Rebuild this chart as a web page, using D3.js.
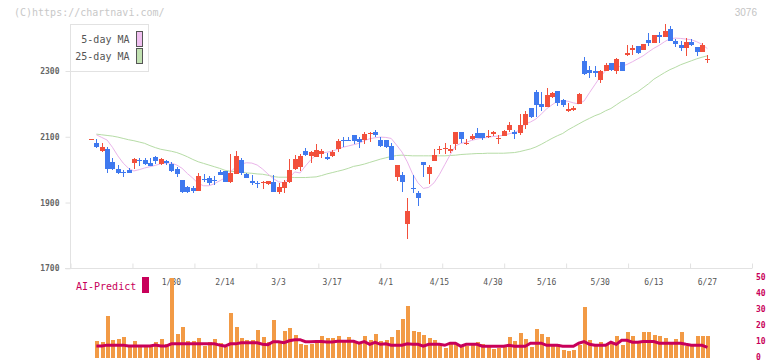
<!DOCTYPE html>
<html>
<head>
<meta charset="utf-8">
<script src="https://cdn.jsdelivr.net/npm/d3@7"></script>
<style>
  body { margin: 0; background: #fff; }
  text { font-family: "DejaVu Sans Mono", monospace; }
</style>
</head>
<body>
<svg id="chart" width="772" height="361"></svg>
<script>
// daily prices, one entry per trading day (first = 1/8, last = 6/27)
var openP = [
  2093, 2081, 2058, 2063, 2024, 2001, 1992, 1999, 2021, 2030,
  2030, 2021, 2038, 2017, 2027, 2018, 2002, 1969, 1947, 1945,
  1936, 1972, 1976, 1970, 1992, 1997, 1963, 1987, 2030, 1987,
  1964, 1960, 1960, 1956, 1961, 1933, 1943, 1963, 2003, 2009,
  2057, 2040, 2039, 2048, 2037, 2042, 2064, 2091, 2091, 2106,
  2094, 2090, 2108, 2115, 2090, 2090, 2072, 1979, 1984, 1836,
  1945, 1930, 2024, 1987, 2025, 2060, 2062, 2056, 2079, 2115,
  2077, 2094, 2112, 2111, 2100, 2107, 2093, 2101, 2122, 2115,
  2112, 2136, 2188, 2237, 2200, 2192, 2222, 2240, 2212, 2179,
  2180, 2199, 2331, 2304, 2301, 2273, 2299, 2323, 2299, 2326,
  2348, 2364, 2375, 2365, 2395, 2385, 2410, 2402, 2428, 2392,
  2380, 2370, 2388, 2373, 2358, 2334
];
var closeP = [
  2093, 2070, 2069, 2003, 2002, 1991, 1989, 1991, 2033, 2027,
  2018, 2012, 2025, 2033, 2020, 1995, 1987, 1932, 1931, 1936,
  1981, 1968, 1958, 1967, 1985, 1961, 1989, 2043, 1991, 1975,
  1958, 1955, 1962, 1964, 1933, 1948, 1961, 1999, 2033, 2042,
  2046, 2053, 2059, 2057, 2031, 2054, 2088, 2087, 2087, 2086,
  2083, 2109, 2112, 2104, 2073, 2070, 2028, 2014, 1961, 1874,
  1941, 1915, 2014, 2008, 2045, 2064, 2067, 2062, 2115, 2092,
  2081, 2103, 2097, 2095, 2103, 2113, 2096, 2117, 2137, 2107,
  2136, 2170, 2160, 2197, 2192, 2228, 2233, 2202, 2197, 2184,
  2189, 2231, 2290, 2294, 2293, 2301, 2319, 2302, 2336, 2299,
  2354, 2369, 2354, 2382, 2385, 2409, 2402, 2422, 2390, 2382,
  2370, 2388, 2378, 2358, 2380, 2336
];
var highP = [
  2093, 2093, 2080, 2068, 2035, 2014, 1999, 2005, 2035, 2036,
  2036, 2034, 2042, 2036, 2030, 2024, 2009, 1969, 1949, 1950,
  1990, 1986, 1980, 1980, 2000, 1997, 2049, 2057, 2036, 1990,
  1984, 1964, 1967, 1967, 1983, 1960, 1968, 2032, 2044, 2047,
  2067, 2057, 2077, 2062, 2050, 2060, 2092, 2098, 2098, 2106,
  2099, 2116, 2114, 2121, 2098, 2090, 2081, 2014, 1993, 1914,
  1984, 1935, 2024, 2014, 2062, 2072, 2080, 2076, 2115, 2115,
  2093, 2109, 2127, 2111, 2121, 2117, 2104, 2121, 2146, 2121,
  2168, 2177, 2188, 2243, 2235, 2248, 2237, 2240, 2214, 2202,
  2193, 2232, 2344, 2316, 2316, 2304, 2323, 2323, 2339, 2326,
  2380, 2380, 2375, 2382, 2415, 2409, 2420, 2444, 2438, 2398,
  2390, 2400, 2398, 2373, 2385, 2349
];
var lowP = [
  2093, 2066, 2054, 1991, 1999, 1987, 1977, 1989, 2003, 2012,
  2014, 2012, 2017, 2015, 2015, 1993, 1977, 1930, 1929, 1928,
  1936, 1962, 1954, 1954, 1983, 1961, 1959, 1986, 1985, 1975,
  1953, 1945, 1941, 1953, 1933, 1925, 1930, 1959, 1999, 1996,
  2043, 2021, 2039, 2035, 2030, 2037, 2055, 2069, 2087, 2078,
  2065, 2078, 2085, 2100, 2069, 2065, 2028, 1964, 1933, 1790,
  1930, 1890, 1979, 1957, 2025, 2048, 2049, 2052, 2060, 2082,
  2074, 2089, 2095, 2089, 2095, 2101, 2078, 2101, 2113, 2092,
  2106, 2124, 2156, 2160, 2177, 2192, 2219, 2193, 2192, 2174,
  2179, 2199, 2288, 2280, 2283, 2265, 2299, 2299, 2291, 2299,
  2346, 2349, 2352, 2365, 2377, 2385, 2385, 2402, 2390, 2373,
  2361, 2347, 2377, 2347, 2358, 2324
];

// moving averages as drawn (first day has none)
var ma5 = [
  null, 2106, 2098, 2090, 2068, 2042, 2020, 2004, 1996, 2000,
  2005, 2009, 2013, 2018, 2020, 2020, 2014, 2004, 1988, 1974,
  1958, 1951, 1951, 1957, 1966, 1975, 1993, 2008, 2017, 2021,
  2020, 2014, 2002, 1987, 1973, 1963, 1960, 1975, 1993, 1990,
  2011, 2030, 2045, 2051, 2053, 2056, 2062, 2068, 2072, 2076,
  2080, 2088, 2094, 2097, 2099, 2098, 2095, 2075, 2054, 2024,
  1987, 1960, 1943, 1946, 1960, 1985, 2015, 2045, 2072, 2080,
  2083, 2089, 2093, 2096, 2098, 2101, 2102, 2105, 2109, 2113,
  2121, 2139, 2145, 2154, 2169, 2185, 2197, 2208, 2209, 2208,
  2203, 2200, 2209, 2234, 2258, 2282, 2301, 2310, 2313, 2314,
  2320, 2328, 2337, 2346, 2358, 2369, 2378, 2389, 2398, 2400,
  2399, 2397, 2395, 2389, 2381, 2368
];
var ma25 = [
  null, 2108, 2106, 2104, 2102, 2099, 2095, 2091, 2088, 2084,
  2080, 2073, 2067, 2062, 2059, 2056, 2052, 2046, 2039, 2031,
  2024, 2019, 2014, 2009, 2004, 1998, 1995, 1994, 1992, 1990,
  1989, 1987, 1986, 1983, 1979, 1977, 1977, 1977, 1976, 1976,
  1976, 1977, 1978, 1982, 1987, 1991, 1995, 1999, 2004, 2010,
  2013, 2017, 2022, 2027, 2032, 2036, 2040, 2043, 2044, 2043,
  2042, 2042, 2042, 2042, 2042, 2042, 2042, 2043, 2044, 2046,
  2047, 2048, 2049, 2049, 2050, 2050, 2050, 2050, 2051, 2052,
  2055, 2059, 2063, 2069, 2077, 2086, 2095, 2103, 2110, 2121,
  2130, 2139, 2148, 2156, 2164, 2170, 2179, 2186, 2197, 2208,
  2217, 2228, 2237, 2249, 2261, 2275, 2285, 2295, 2304, 2311,
  2319, 2325, 2331, 2337, 2342, 2346
];

// lower panel: bars and AI-Predict line
var volume = [
  null, 11, 10.3, 26.5, 11.6, 12.2, 13.4, 7.8, 11, 7.8,
  7.8, 7.8, 10.3, 12.2, 9, 49.7, 15.3, 19.7, 11, 11,
  12.8, 7.8, 10.3, 12.2, 9.7, 7.2, 28.4, 19.7, 12.8, 11.6,
  11.6, 17.8, 13.4, 10.3, 24, 10.3, 17.2, 19, 14.7, 9,
  8.4, 9, 10.3, 14, 12.7, 12.7, 14, 10.2, 13.3, 10.8,
  8.9, 14, 11.4, 15.2, 10.8, 11.4, 13, 17.7, 24.6, 32.7,
  17, 16.4, 14.6, 12.7, 11.4, 8.3, 6.4, 10.2, 9.5, 8.3,
  7.7, 8.3, 10.2, 8.9, 7.7, 5.8, 6.4, 8.3, 13.3, 10.8,
  15.8, 12, 7, 18.3, 15.2, 13.3, 7.7, 8.9, 5.2, 4.6,
  5.2, 8.3, 32, 11.4, 8.3, 10.2, 8.9, 10.2, 14, 8.3,
  16.4, 14, 10.8, 16.4, 16.4, 14.6, 14, 12.7, 9.5, 12,
  16.4, 7.7, 7.7, 14, 14, 14
];
var aiPredict = [
  null, 7.6, 7.6, 8.2, 8.2, 8.2, 8.2, 7.6, 7.6, 7.6,
  7.6, 7.6, 8.2, 7.6, 7.6, 9, 9, 9, 9, 9,
  9, 9, 9, 9, 8.2, 7.6, 9, 9, 9.7, 9.7,
  9.7, 9.7, 8.8, 8.5, 10.3, 10.3, 9.7, 10.9, 11.6, 11.6,
  10.3, 10.3, 10.4, 10.4, 10.2, 10.2, 10.6, 10.6, 10.6, 10.6,
  9.4, 10.4, 8.7, 10, 8.7, 9, 8.1, 8.1, 8.1, 9,
  8.7, 8.7, 7.5, 8.7, 8.7, 8.7, 8.1, 9.4, 9.4, 7.5,
  8.7, 8.7, 8.7, 7.5, 7.5, 7.5, 7.5, 7.5, 8.1, 7.5,
  7.5, 7.5, 9.4, 9.4, 9.4, 8.1, 8.1, 8.1, 7.5, 7.5,
  7.5, 9.4, 10.4, 8.7, 8.1, 8.1, 8.1, 10, 8.7, 11.2,
  11.2, 10, 10, 10.4, 10.4, 10.4, 9.4, 9.4, 9.4, 9.4,
  9.4, 8.7, 8.1, 8.1, 8.1, 6.8
];

// axis labels
var dayLabels = ["1/30", "2/14", "3/3", "3/17", "4/1", "4/15", "4/30", "5/16", "5/30", "6/13", "6/27"];
var dayLabelIdx = [15, 25, 35, 45, 55, 65, 75, 85, 95, 105, 115];
var priceTicks = [1700, 1900, 2100, 2300];
var volTicks = [0, 10, 20, 30, 40, 50];

var UP = "#f2503c", DOWN = "#3f79ef";
var GRID = "#e2e2e2";
var AI_COL = "#c8005a";

var svg = d3.select("#chart");
var days = d3.range(openP.length);

var x = d3.scaleLinear().domain([0, openP.length - 1]).range([91, 707.4]);
var y = d3.scaleLinear().domain([1700, 2300]).range([268.3, 71]);
var yv = d3.scaleLinear().domain([0, 50]).range([358.3, 278]);
// evenly spaced marks along the bottom line
var gx = d3.scaleLinear().domain([0, 11]).range([70.5, 752]);

svg.append("rect").attr("width", 772).attr("height", 361).attr("fill", "#fff");

// header
svg.append("text")
  .attr("x", 14).attr("y", 16)
  .text("(C)https://chartnavi.com/")
  .style("font-size", "10px")
  .attr("fill", "#c8c8c8");
svg.append("text")
  .attr("x", 757).attr("y", 16)
  .attr("text-anchor", "end")
  .text("3076")
  .style("font-family", "'Liberation Sans', Arial, sans-serif")
  .style("font-size", "10px")
  .attr("fill", "#c4c4c4");

// y axis
svg.append("line")
  .attr("x1", 70.5).attr("x2", 70.5)
  .attr("y1", 24).attr("y2", 268.5)
  .attr("stroke", GRID);

var yAxis = svg.append("g")
  .attr("transform", "translate(70.5,0)")
  .call(d3.axisLeft(y).tickValues(priceTicks).tickSize(5).tickPadding(6).tickFormat(d3.format("d")));
yAxis.select(".domain").remove();
yAxis.selectAll("line").attr("stroke", GRID);
yAxis.selectAll("text")
  .style("font-size", "8px")
  .style("font-weight", "bold")
  .attr("fill", "#666");

// x axis
var xAxis = svg.append("g")
  .attr("transform", "translate(0,268.5)")
  .call(d3.axisBottom(gx).ticks(11).tickSize(-5).tickFormat(""));
xAxis.select(".domain").attr("d", "M65,0H752").attr("stroke", GRID);
xAxis.selectAll("line").attr("stroke", GRID);

svg.selectAll("text.day")
  .data(dayLabels)
  .enter().append("text")
  .attr("class", "day")
  .attr("x", function(d, i) { return x(dayLabelIdx[i]); })
  .attr("y", 285)
  .attr("text-anchor", "middle")
  .text(function(d) { return d; })
  .style("font-size", "8px")
  .attr("fill", "#555");

// moving average lines
var maLine = d3.line()
  .defined(function(d) { return d != null; })
  .x(function(d, i) { return x(i); })
  .y(function(d) { return y(d); });

svg.append("path").datum(ma25)
  .attr("d", maLine)
  .attr("fill", "none")
  .attr("stroke", "#b6dca6")
  .attr("stroke-width", 1);
svg.append("path").datum(ma5)
  .attr("d", maLine)
  .attr("fill", "none")
  .attr("stroke", "#eab4ea")
  .attr("stroke-width", 1);

// candles
var candle = svg.append("g").attr("shape-rendering", "crispEdges")
  .selectAll("g")
  .data(days)
  .enter().append("g")
  .attr("fill", function(i) { return closeP[i] >= openP[i] ? UP : DOWN; })
  .attr("stroke", function(i) { return closeP[i] >= openP[i] ? UP : DOWN; });

candle.append("line")
  .attr("x1", function(i) { return Math.round(x(i)) + 0.5; })
  .attr("x2", function(i) { return Math.round(x(i)) + 0.5; })
  .attr("y1", function(i) { return y(highP[i]); })
  .attr("y2", function(i) { return y(lowP[i]); });

candle.append("rect")
  .attr("stroke", "none")
  .attr("x", function(i) { return Math.round(x(i)) - 2; })
  .attr("width", 5)
  .attr("y", function(i) { return y(Math.max(openP[i], closeP[i])); })
  .attr("height", function(i) {
    return Math.max(1, Math.abs(y(openP[i]) - y(closeP[i])));
  });

// legend
var legend = svg.append("g");
legend.append("rect")
  .attr("x", 70.5).attr("y", 24.5)
  .attr("width", 78).attr("height", 47)
  .attr("fill", "#fff")
  .attr("stroke", GRID);
var legendItems = [["5-day MA", "#f0c0f0"], ["25-day MA", "#c2e2b2"]];
legendItems.forEach(function(d, i) {
  legend.append("text")
    .attr("x", 129.5).attr("y", 43 + i * 17)
    .attr("text-anchor", "end")
    .text(d[0])
    .style("font-size", "10px")
    .attr("fill", "#555");
  legend.append("rect")
    .attr("x", 136.5).attr("y", 31.5 + i * 17)
    .attr("width", 6).attr("height", 15)
    .attr("fill", d[1])
    .attr("stroke", "#555");
});

// lower panel
svg.append("text")
  .attr("x", 76).attr("y", 290)
  .text("AI-Predict")
  .style("font-size", "10px")
  .attr("fill", AI_COL);
svg.append("rect")
  .attr("x", 142).attr("y", 277)
  .attr("width", 7).attr("height", 16)
  .attr("fill", AI_COL);

svg.append("g").attr("shape-rendering", "crispEdges")
  .selectAll("rect")
  .data(days.filter(function(i) { return volume[i] != null; }))
  .enter().append("rect")
  .attr("x", function(i) { return Math.round(x(i)) - 1.5; })
  .attr("width", 4)
  .attr("y", function(i) { return yv(volume[i]); })
  .attr("height", function(i) { return yv(0) - yv(volume[i]); })
  .attr("fill", "#f29a45");

svg.append("path").datum(aiPredict)
  .attr("d", d3.line()
    .defined(function(d) { return d != null; })
    .x(function(d, i) { return x(i); })
    .y(function(d) { return yv(d); }))
  .attr("fill", "none")
  .attr("stroke", AI_COL)
  .attr("stroke-width", 3);

var vAxis = svg.append("g")
  .attr("transform", "translate(756,-1)")
  .call(d3.axisRight(yv).tickValues(volTicks).tickSize(0).tickPadding(0));
vAxis.select(".domain").remove();
vAxis.selectAll("text")
  .attr("dy", "0.3em")
  .style("font-size", "8px")
  .style("font-weight", "bold")
  .attr("fill", AI_COL);
</script>
</body>
</html>
